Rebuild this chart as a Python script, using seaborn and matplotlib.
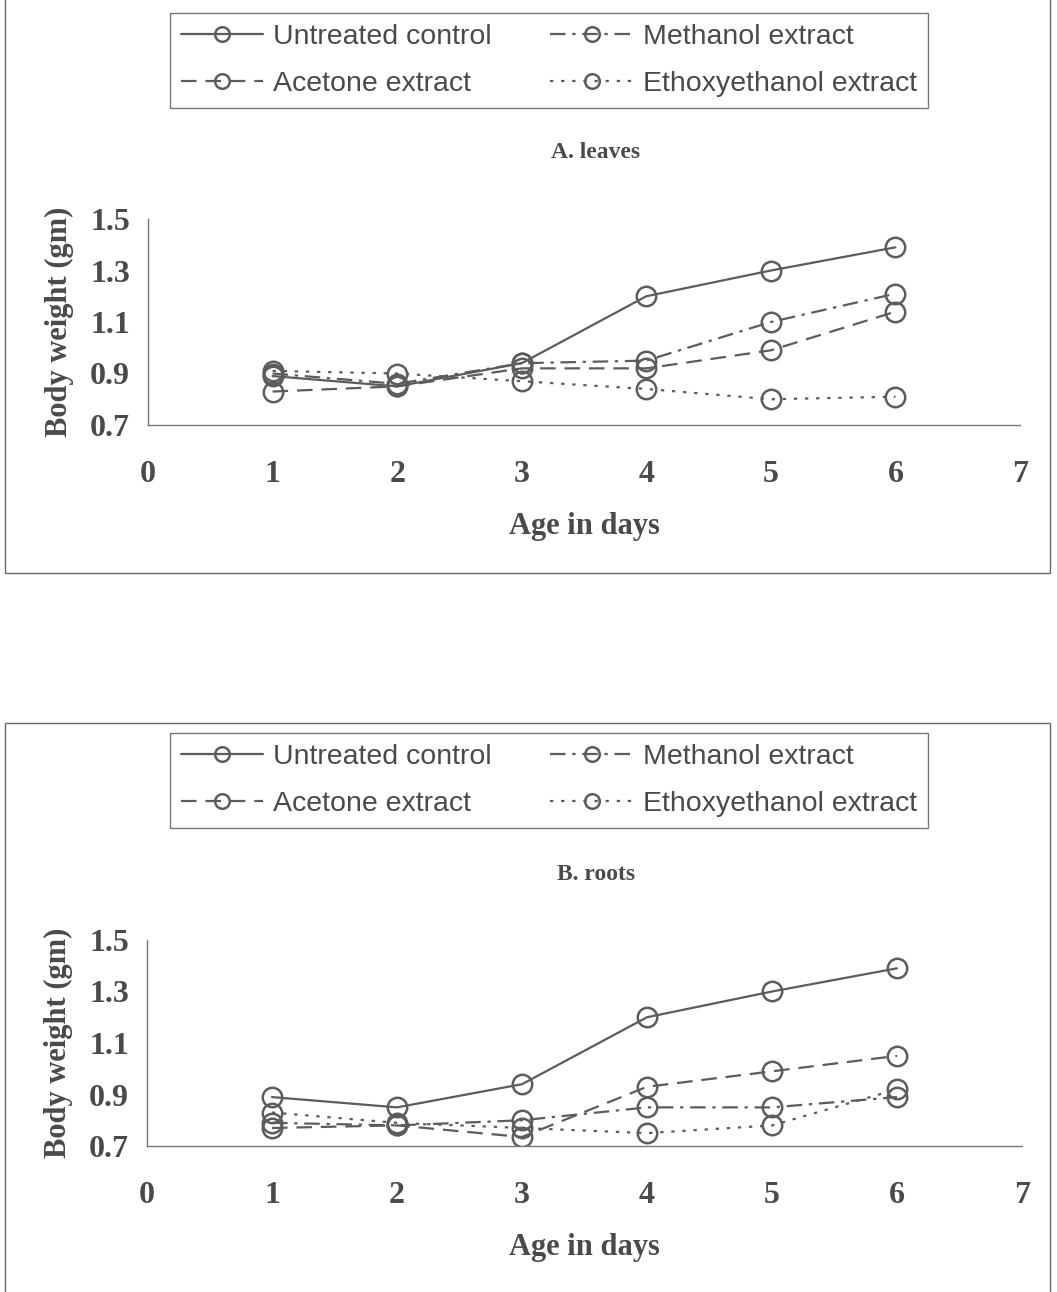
import pandas as pd
import matplotlib
matplotlib.use("Agg")
import matplotlib.pyplot as plt
from matplotlib.patches import Rectangle
import seaborn as sns

sns.set_style("white")
plt.rcParams["font.family"] = ["Liberation Serif", "DejaVu Serif"]

days = [1, 2, 3, 4, 5, 6]
series_names = ["Untreated control", "Acetone extract", "Methanol extract", "Ethoxyethanol extract"]

# A. leaves
leaves_control = [0.89, 0.85, 0.94, 1.20, 1.30, 1.39]
leaves_acetone = [0.83, 0.85, 0.92, 0.92, 0.99, 1.14]
leaves_methanol = [0.90, 0.86, 0.94, 0.95, 1.10, 1.21]
leaves_ethoxy = [0.91, 0.90, 0.87, 0.84, 0.80, 0.81]

# B. roots
roots_control = [0.89, 0.85, 0.94, 1.20, 1.30, 1.39]
roots_acetone = [0.77, 0.78, 0.735, 0.93, 0.99, 1.05]
roots_methanol = [0.79, 0.78, 0.80, 0.85, 0.85, 0.89]
roots_ethoxy = [0.83, 0.79, 0.77, 0.75, 0.78, 0.92]

y_ticks = [0.7, 0.9, 1.1, 1.3, 1.5]
x_ticks = [0, 1, 2, 3, 4, 5, 6, 7]

GRAY = "#5c5c5c"
TXT = "#4a4a4a"
FW, FH = 1057, 1292


def to_long(values):
    frames = []
    for name, vals in zip(series_names, values):
        frames.append(pd.DataFrame({"day": days, "weight": vals, "series": name}))
    return pd.concat(frames, ignore_index=True)


def fx(px):
    return px / FW


def fy(px):
    return 1 - px / FH


dashes = {
    "Untreated control": "",
    "Acetone extract": (7, 4),
    "Methanol extract": (7, 3, 1.5, 3),
    "Ethoxyethanol extract": (1.5, 3.5),
}
markers = {n: "o" for n in series_names}
palette = {n: GRAY for n in series_names}

fig = plt.figure(figsize=(FW / 100, FH / 100), dpi=100)

panels = [
    ("A. leaves", [leaves_control, leaves_acetone, leaves_methanol, leaves_ethoxy],
     (148, 219, 1020, 425), 13, 153, (-5, 573)),
    ("B. roots", [roots_control, roots_acetone, roots_methanol, roots_ethoxy],
     (147, 940, 1022, 1146), 733, 875, (723, 1300)),
]

for title, values, (l, t, r, b), leg_top, title_y, (box_t, box_b) in panels:
    # outer frame
    fig.add_artist(Rectangle((fx(5), fy(box_b)), fx(1050) - fx(5), fy(box_t) - fy(box_b),
                             transform=fig.transFigure, fill=False, ec="#6a6a6a", lw=1.0))
    ax = fig.add_axes([fx(l), fy(b), fx(r) - fx(l), fy(t) - fy(b)])
    df = to_long(values)
    sns.lineplot(data=df, x="day", y="weight", hue="series", style="series",
                 hue_order=series_names, style_order=series_names,
                 palette=palette, dashes=dashes, markers=markers,
                 markersize=14, markerfacecolor="none", markeredgecolor=GRAY,
                 markeredgewidth=1.8, linewidth=1.6, ax=ax)
    ax.set_xlim(0, 7)
    ax.set_ylim(0.7, 1.5)
    ax.set_xticks(x_ticks)
    ax.set_yticks(y_ticks)
    ax.set_yticklabels([f"{v:.1f}" for v in y_ticks])
    for s in ["top", "right"]:
        ax.spines[s].set_visible(False)
    for s in ["left", "bottom"]:
        ax.spines[s].set_color("#777777")
        ax.spines[s].set_linewidth(1.0)
    ax.tick_params(axis="x", direction="out", length=8, width=1, color="#777777",
                   pad=17, labelsize=23, labelcolor=TXT)
    ax.tick_params(axis="y", direction="out", length=6, width=1, color="#777777",
                   pad=7, labelsize=23, labelcolor=TXT)
    for lab in ax.get_xticklabels() + ax.get_yticklabels():
        lab.set_fontweight("bold")
    ax.set_xlabel("Age in days", fontsize=22, fontweight="bold", color=TXT)
    ax.set_ylabel("Body weight (gm)", fontsize=22, fontweight="bold", color=TXT)
    ax.xaxis.set_label_coords(0.5, -0.42)
    ax.yaxis.set_label_coords(-0.085, 0.5)
    ax.patch.set_alpha(0)

    fig.text(fx(596), fy(title_y), title, ha="center", va="center",
             fontsize=17, fontweight="bold", color=TXT)

    handles, labels = ax.get_legend_handles_labels()
    ax.get_legend().remove()
    leg = fig.legend(handles, labels, loc="upper left",
                     bbox_to_anchor=(fx(170), fy(leg_top)), ncol=2,
                     frameon=True, fancybox=False, edgecolor="#555555",
                     borderaxespad=0, handlelength=2.9, columnspacing=2.05,
                     labelspacing=0.74, borderpad=0.38, handletextpad=0.35,
                     markerscale=0.75,
                     prop={"family": ["Liberation Sans Narrow", "Liberation Sans"], "size": 20.5})
    leg.get_frame().set_linewidth(1.0)
    for txt in leg.get_texts():
        txt.set_color(TXT)

fig.savefig("out.png", dpi=100)
